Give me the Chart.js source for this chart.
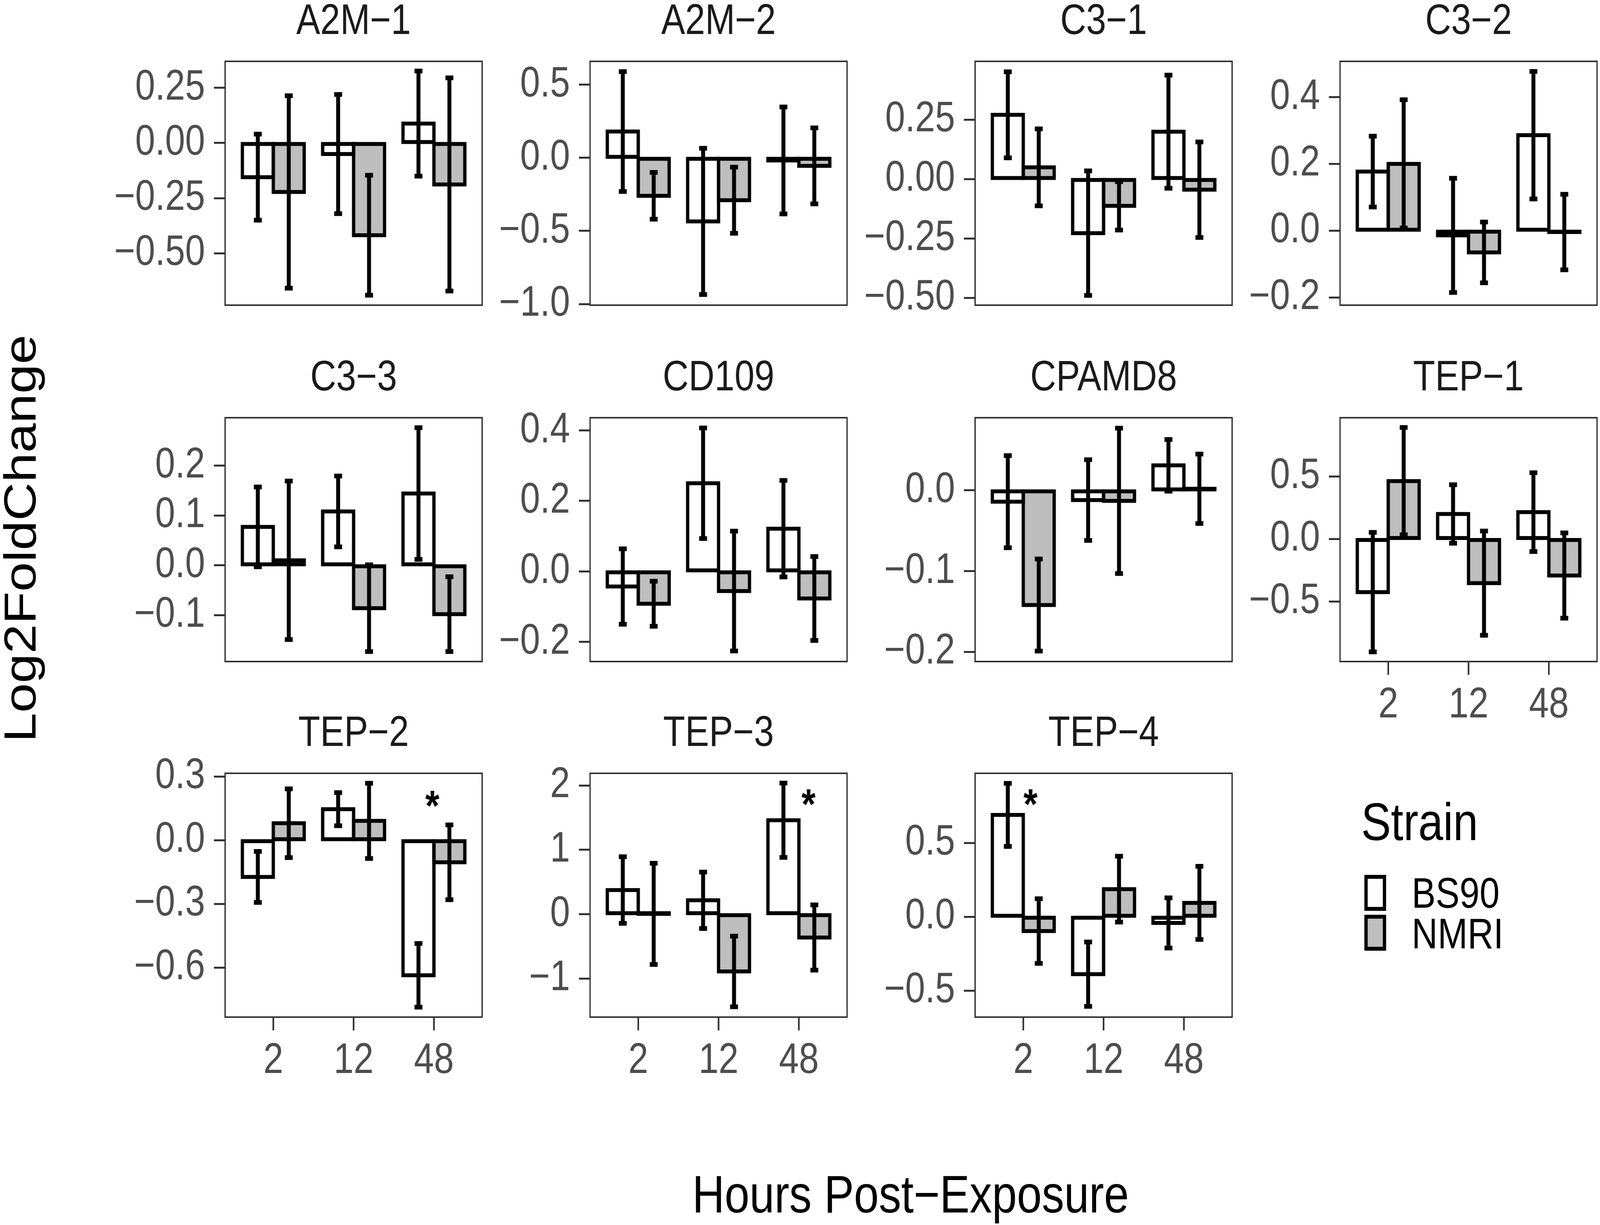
<!DOCTYPE html>
<html>
<head>
<meta charset="utf-8">
<title>Log2FoldChange by strain and hours post-exposure</title>
<script src="https://cdn.jsdelivr.net/npm/chart.js@4.4.1/dist/chart.umd.min.js"></script>
<style>
  html, body { margin: 0; padding: 0; background: #fff; overflow: hidden; }
  #page {
    position: relative; width: 4862px; height: 3135px; overflow: hidden; background: #fff;
    font-family: "Liberation Sans", Arial, Helvetica, sans-serif;
    transform-origin: 0 0;
  }
  #page canvas { position: absolute; }
  .txt { position: absolute; line-height: 1; white-space: nowrap; color: #000; }
  #ytitle { font-size: 136px; left: 61px; top: 1378px; transform: translate(-50%, -50%) rotate(-90deg); }
  #xtitle { font-size: 136px; left: 2767px; top: 2988px; transform: translateX(-50%); }
  #legTitle { font-size: 136px; left: 4136px; top: 2035px; }
  .legLabel { font-size: 109px; left: 4290px; }
  .key { position: absolute; box-sizing: border-box; border: 10px solid #000; left: 4146px; width: 66px; height: 92px; }
</style>
</head>
<body>
<div id="page">
  <div class="txt" id="ytitle">Log2FoldChange</div>
  <div class="txt" id="xtitle">Hours Post−Exposure</div>
  <div class="txt" id="legTitle">Strain</div>
  <div class="key" id="keyBS90" style="top:2239px;background:#FFFFFF"></div>
  <div class="key" id="keyNMRI" style="top:2341px;background:#BEBEBE"></div>
  <div class="txt legLabel" style="top:2231px">BS90</div>
  <div class="txt legLabel" style="top:2335px">NMRI</div>
</div>
<script>
// x categories and strains
const hours = ['2', '12', '48'];
const strains = ['BS90', 'NMRI'];
const genes = ['A2M−1', 'A2M−2', 'C3−1', 'C3−2', 'C3−3', 'CD109', 'CPAMD8', 'TEP−1', 'TEP−2', 'TEP−3', 'TEP−4'];

// mean log2 fold change, one row per gene, one column per hour
const bs90Mean = [
  [-0.155, -0.050, 0.088],
  [0.180, -0.435, -0.018],
  [0.270, -0.228, 0.199],
  [0.177, -0.014, 0.286],
  [0.077, 0.108, 0.144],
  [-0.043, 0.250, 0.121],
  [-0.014, -0.012, 0.031],
  [-0.425, 0.200, 0.215],
  [-0.173, 0.146, -0.636],
  [0.375, 0.216, 1.460],
  [0.690, -0.389, -0.042]
];
const nmriMean = [
  [-0.222, -0.418, -0.188],
  [-0.260, -0.290, -0.055],
  [0.049, -0.113, -0.045],
  [0.200, -0.065, -0.004],
  [0.010, -0.086, -0.098],
  [-0.092, -0.056, -0.077],
  [-0.142, -0.013, 0.002],
  [0.463, -0.353, -0.292],
  [0.080, 0.091, -0.104],
  [0.005, -0.890, -0.363],
  [-0.097, 0.187, 0.094]
];

// error bar half-lengths
const bs90Err = [
  [0.195, 0.270, 0.238],
  [0.410, 0.500, 0.366],
  [0.181, 0.262, 0.238],
  [0.106, 0.171, 0.191],
  [0.080, 0.071, 0.132],
  [0.107, 0.157, 0.137],
  [0.057, 0.050, 0.032],
  [0.478, 0.234, 0.315],
  [0.120, 0.078, 0.150],
  [0.518, 0.439, 0.578],
  [0.214, 0.218, 0.170]
];
const nmriErr = [
  [0.436, 0.272, 0.483],
  [0.160, 0.226, 0.260],
  [0.162, 0.102, 0.201],
  [0.192, 0.091, 0.113],
  [0.159, 0.087, 0.075],
  [0.064, 0.170, 0.119],
  [0.057, 0.090, 0.043],
  [0.429, 0.417, 0.341],
  [0.162, 0.177, 0.176],
  [0.787, 0.549, 0.507],
  [0.219, 0.223, 0.248]
];

// free y scales per panel
const yMin = [-0.735, -1.008, -0.531, -0.223, -0.193, -0.256, -0.212, -0.980, -0.833, -1.600, -0.680];
const yMax = [0.370, 0.660, 0.495, 0.507, 0.296, 0.436, 0.090, 0.970, 0.315, 2.190, 0.972];
const yTicks = [
  [-0.5, -0.25, 0, 0.25],
  [-1, -0.5, 0, 0.5],
  [-0.5, -0.25, 0, 0.25],
  [-0.2, 0, 0.2, 0.4],
  [-0.1, 0, 0.1, 0.2],
  [-0.2, 0, 0.2, 0.4],
  [-0.2, -0.1, 0],
  [-0.5, 0, 0.5],
  [-0.6, -0.3, 0, 0.3],
  [-1, 0, 1, 2],
  [-0.5, 0, 0.5]
];
const yDecimals = [2, 1, 2, 1, 1, 1, 1, 1, 1, 0, 1];

// significance marks: panel, x position (hour index), y position
const sigGene = [8, 9, 10];
const sigX = [1.98, 2.12, 0.09];
const sigY = [0.205, 1.85, 0.824];

// layout (page pixels, 4862 x 3135 design)
const PAGE_W = 4862;
const PAGE_H = 3135;
const colLeft = [684, 1793, 2963, 4072];
const rowTop = [157, 1069, 1979];
const panelW = 781;
const panelH = 624;
const axisW = 400;
const topPad = 180;
const rightPad = 20;
const xAxisH = 200;
const withXAxis = [7, 8, 9, 10];

const FONT = '"Liberation Sans", Arial, Helvetica, sans-serif';
Chart.defaults.font.family = FONT;

function fmtTick(v, dec) {
  return v.toFixed(dec).replace('-', '\u2212');
}

// the window may be narrower than the design: squeeze the page to fill it
function fitPage() {
  const page = document.getElementById('page');
  const sx = window.innerWidth / PAGE_W;
  const sy = window.innerHeight / PAGE_H;
  if (Math.abs(sx - 1) > 0.001 || Math.abs(sy - 1) > 0.001) {
    page.style.transform = 'scale(' + sx + ', ' + sy + ')';
  }
}

// bar outlines, error bars, panel border, strip title, asterisks
const panelDecor = {
  id: 'panelDecor',
  afterDatasetsDraw(chart, args, opts) {
    const g = opts.gene;
    const ctx = chart.ctx;
    const ys = chart.scales.y;
    const xs = chart.scales.x;
    const area = chart.chartArea;
    const means = [bs90Mean[g], nmriMean[g]];
    const errs = [bs90Err[g], nmriErr[g]];

    ctx.save();
    ctx.strokeStyle = '#000';
    ctx.lineJoin = 'miter';
    ctx.lineWidth = 10;
    chart.data.datasets.forEach((ds, d) => {
      chart.getDatasetMeta(d).data.forEach(bar => {
        const top = Math.min(bar.y, bar.base);
        ctx.strokeRect(bar.x - bar.width / 2, top, bar.width, Math.abs(bar.base - bar.y));
      });
    });

    ctx.lineWidth = 12;
    ctx.lineCap = 'butt';
    chart.data.datasets.forEach((ds, d) => {
      chart.getDatasetMeta(d).data.forEach((bar, j) => {
        const hi = ys.getPixelForValue(means[d][j] + errs[d][j]);
        const lo = ys.getPixelForValue(means[d][j] - errs[d][j]);
        ctx.beginPath();
        ctx.moveTo(bar.x, hi);
        ctx.lineTo(bar.x, lo);
        ctx.moveTo(bar.x - 12, hi);
        ctx.lineTo(bar.x + 12, hi);
        ctx.moveTo(bar.x - 12, lo);
        ctx.lineTo(bar.x + 12, lo);
        ctx.stroke();
      });
    });

    ctx.strokeStyle = '#333333';
    ctx.lineWidth = 4;
    ctx.strokeRect(area.left, area.top, area.right - area.left, area.bottom - area.top);

    ctx.fillStyle = '#000';
    ctx.font = 'bold 110px ' + FONT;
    ctx.textAlign = 'center';
    ctx.textBaseline = 'alphabetic';
    sigGene.forEach((sg, k) => {
      if (sg !== g) return;
      ctx.fillText('*', xs.getPixelForValue(sigX[k]), ys.getPixelForValue(sigY[k]) + 60);
    });

    ctx.fillStyle = '#1A1A1A';
    ctx.font = '109px ' + FONT;
    ctx.fillText(genes[g], (area.left + area.right) / 2, area.top - 70);
    ctx.restore();
  }
};

function makePanel(g) {
  const col = g % 4;
  const row = Math.floor(g / 4);
  const showX = withXAxis.includes(g);
  const bottomPad = showX ? xAxisH : 120;

  const canvas = document.createElement('canvas');
  canvas.width = axisW + panelW + rightPad;
  canvas.height = topPad + panelH + bottomPad;
  canvas.style.left = (colLeft[col] - axisW) + 'px';
  canvas.style.top = (rowTop[row] - topPad) + 'px';
  canvas.style.width = canvas.width + 'px';
  canvas.style.height = canvas.height + 'px';
  document.getElementById('page').appendChild(canvas);

  const tickGrid = {
    display: true,
    drawOnChartArea: false,
    drawTicks: true,
    tickLength: 34,
    tickWidth: 5,
    tickColor: '#333333',
    color: '#333333',
    lineWidth: 5
  };

  return new Chart(canvas, {
    type: 'bar',
    data: {
      datasets: [
        {
          label: strains[0],
          data: hours.map((h, j) => ({ x: j, y: bs90Mean[g][j] })),
          backgroundColor: '#FFFFFF',
          borderWidth: 0
        },
        {
          label: strains[1],
          data: hours.map((h, j) => ({ x: j, y: nmriMean[g][j] })),
          backgroundColor: '#BEBEBE',
          borderWidth: 0
        }
      ]
    },
    options: {
      responsive: false,
      animation: false,
      devicePixelRatio: 1,
      categoryPercentage: 0.77,
      barPercentage: 1.0,
      layout: {
        autoPadding: false,
        padding: { left: 0, top: topPad, right: rightPad, bottom: showX ? 0 : bottomPad }
      },
      plugins: {
        legend: { display: false },
        tooltip: { enabled: false },
        panelDecor: { gene: g }
      },
      scales: {
        x: {
          type: 'linear',
          display: showX,
          min: -0.6,
          max: 2.6,
          offset: false,
          afterBuildTicks: s => { s.ticks = hours.map((h, j) => ({ value: j })); },
          afterFit: s => { s.height = showX ? xAxisH : 0; },
          grid: Object.assign({ offset: false }, tickGrid),
          border: { display: false },
          ticks: {
            autoSkip: false,
            maxRotation: 0,
            padding: 14,
            color: '#4D4D4D',
            font: { size: 109 },
            callback: v => hours[Math.round(v)]
          }
        },
        y: {
          type: 'linear',
          min: yMin[g],
          max: yMax[g],
          afterBuildTicks: s => { s.ticks = yTicks[g].map(v => ({ value: v })); },
          afterFit: s => { s.width = axisW; },
          grid: tickGrid,
          border: { display: false },
          ticks: {
            autoSkip: false,
            padding: 27,
            color: '#4D4D4D',
            font: { size: 109 },
            callback: v => fmtTick(v, yDecimals[g])
          }
        }
      }
    },
    plugins: [panelDecor]
  });
}

genes.forEach((name, g) => makePanel(g));
fitPage();
</script>
</body>
</html>
